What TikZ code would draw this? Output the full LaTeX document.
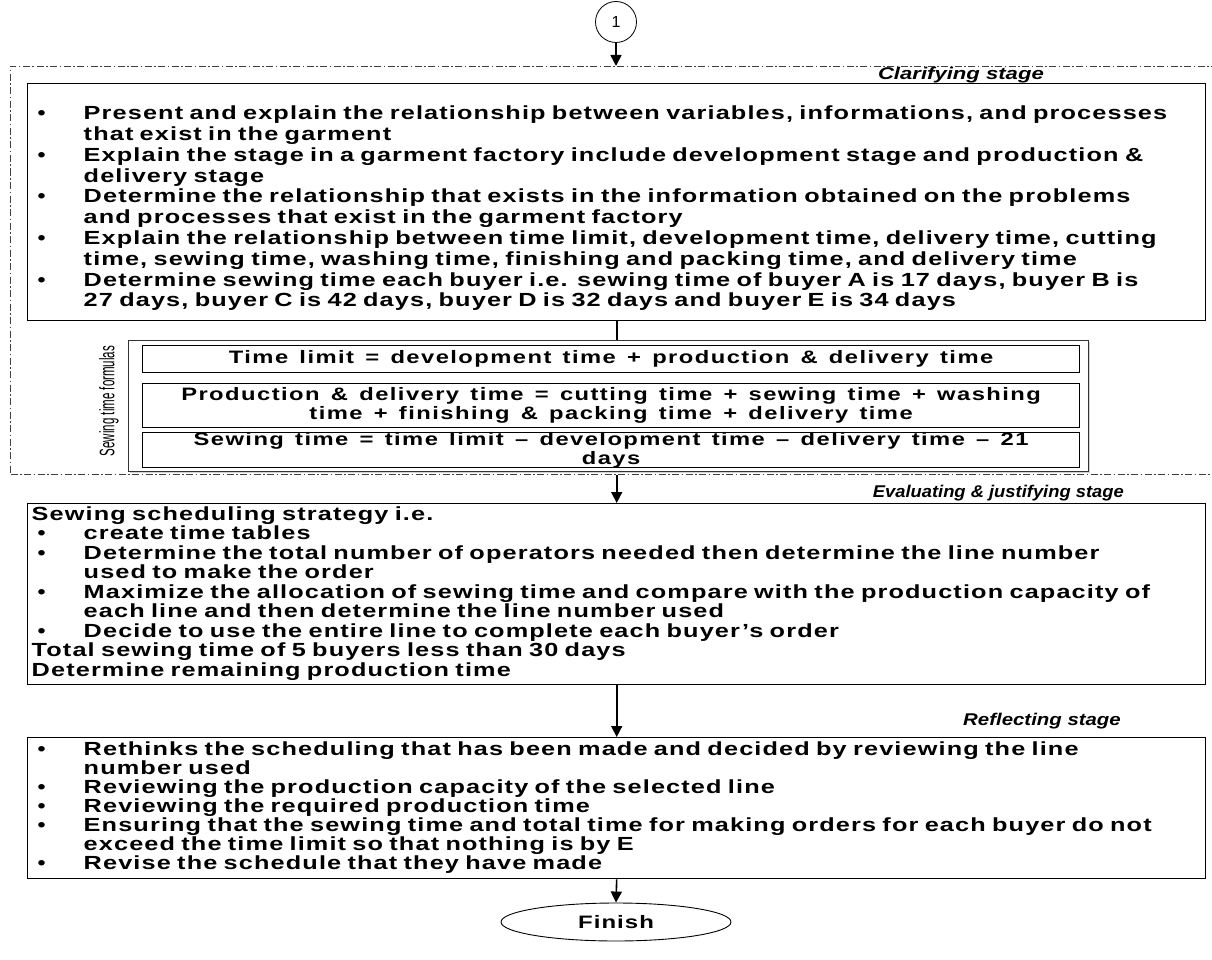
\documentclass[tikz,border=0pt]{standalone}
\usepackage{fontspec}
\setmainfont{Liberation Sans}
\newfontfamily\boxfont[FakeStretch=1.33,LetterSpace=6,WordSpace=1.4]{Liberation Sans}
\newfontfamily\formfont[FakeStretch=1.32,LetterSpace=8,WordSpace=1.4]{Liberation Sans}
\newfontfamily\bulfont[FakeStretch=1.2]{Liberation Sans}
\newfontfamily\stagefontA[FakeStretch=1.3]{Liberation Sans}
\newfontfamily\stagefontB[FakeStretch=1.08]{Liberation Sans}
\newfontfamily\stagefontC[FakeStretch=1.2]{Liberation Sans}
\newfontfamily\narrowfont[FakeStretch=0.55]{Liberation Sans}
\usetikzlibrary{arrows.meta,shapes.geometric,shadows}
\newcommand{\bl}{{\bulfont\bfseries •}}
\newcommand{\lowered}[2]{\raisebox{-#1}[\height][\depth]{#2}}
\begin{document}
\begin{tikzpicture}[x=1pt,y=-1pt,
  arr/.style={line width=1.6pt,-{Triangle[length=11pt,width=11pt]}},
  conn/.style={line width=1.6pt},
  mainbox/.style={draw,line width=1.4pt,anchor=north west,inner xsep=10pt,inner ysep=0pt,
     text width=1158pt,align=left},
  bfont/.style={font={\boxfont\bfseries\fontsize{19}{#1}\selectfont}},
  fbox/.style={draw,line width=1.2pt,anchor=north west,minimum width=937pt,inner sep=0pt,
     align=center,font={\formfont\bfseries\fontsize{18}{18.5}\selectfont}},
  cont/.style={draw=black!80,line width=0.9pt,fill=white,anchor=north west,
     drop shadow={shadow xshift=1.5pt,shadow yshift=-1.5pt,opacity=0.35}},
  frame/.style={draw=black!75,line width=1pt,dash pattern=on 7pt off 2.5pt on 1.5pt off 2.5pt},
  stagelbl/.style={inner sep=1pt,anchor=east},
  sidelbl/.style={font={\narrowfont\fontsize{21}{24}\selectfont},inner sep=0pt}
]
\useasboundingbox (0,0) rectangle (1212,960);
\fill[white] (0,0) rectangle (1212,960);

% start connector
\node[circle,draw,line width=0.8pt,minimum size=41pt,inner sep=0pt,
      font=\fontsize{16}{18}\selectfont] (start) at (616,22) {1};

% clarifying frame
\node[frame,anchor=north west,minimum width=1230pt,minimum height=408pt,inner sep=0pt] (clar) at (10,66) {};
\draw[arr] (start) -- (start |- clar.north);
\node[stagelbl,font={\stagefontA\bfseries\itshape\fontsize{17}{20}\selectfont}] (clarlbl) at (1045,75) {Clarifying stage};

% box 1
\node[mainbox,bfont=20.8,minimum height=237pt] (b1) at (27,83) {\lowered{7pt}{%
\begin{tabular}{@{}p{46pt}@{}l@{}}
\bl & Present and explain the relationship between variables, informations, and processes\\
 & that exist in the garment\\
\bl & Explain the stage in a garment factory include development stage and production \&\\
 & delivery stage\\
\bl & Determine the relationship that exists in the information obtained on the problems\\
 & and processes that exist in the garment factory\\
\bl & Explain the relationship between time limit, development time, delivery time, cutting\\
 & time, sewing time, washing time, finishing and packing time, and delivery time\\
\bl & Determine sewing time each buyer i.e. sewing time of buyer A is 17 days, buyer B is\\
 & 27 days, buyer C is 42 days, buyer D is 32 days and buyer E is 34 days
\end{tabular}}};

% formulas container
\node[cont,minimum width=960pt,minimum height=131pt] (fcont) at (128,340) {};
\draw[conn] (b1.south) -- (b1.south |- fcont.north);
\node[sidelbl,rotate=90] (flbl) at (109,401) {Sewing time formulas};
\node[fbox,minimum height=27pt] (fa) at (142,345) {Time limit = development time + production \& delivery time};
\node[fbox,minimum height=44pt] (fb) at (142,383) {Production \& delivery time = cutting time + sewing time + washing\\time + finishing \& packing time + delivery time};
\node[fbox,minimum height=35pt] (fc) at (142,432) {Sewing time = time limit – development time – delivery time – 21\\days};

% box 2
\node[mainbox,bfont=18.9,minimum height=181pt] (b2) at (27,503) {%
\begin{tabular}{@{}p{46pt}@{}l@{}}
\multicolumn{2}{@{}l@{}}{\hspace{-6pt}Sewing scheduling strategy i.e.}\\
\bl & create time tables\\
\bl & Determine the total number of operators needed then determine the line number\\
 & used to make the order\\
\bl & Maximize the allocation of sewing time and compare with the production capacity of\\
 & each line and then determine the line number used\\
\bl & Decide to use the entire line to complete each buyer’s order\\
\multicolumn{2}{@{}l@{}}{\hspace{-6pt}Total sewing time of 5 buyers less than 30 days}\\
\multicolumn{2}{@{}l@{}}{\hspace{-6pt}Determine remaining production time}
\end{tabular}};
\draw[arr] (b1.south |- clar.south) -- (b2.north);
\node[stagelbl,font={\stagefontB\bfseries\itshape\fontsize{17}{20}\selectfont}] (evallbl) at (1125,493) {Evaluating \& justifying stage};

% box 3
\node[mainbox,bfont=17.7,minimum height=141pt] (b3) at (27,737) {%
\begin{tabular}{@{}p{46pt}@{}l@{}}
\bl & Rethinks the scheduling that has been made and decided by reviewing the line\\
 & number used\\
\bl & Reviewing the production capacity of the selected line\\
\bl & Reviewing the required production time\\
\bl & Ensuring that the sewing time and total time for making orders for each buyer do not\\
 & exceed the time limit so that nothing is by E\\
\bl & Revise the schedule that they have made
\end{tabular}};
\draw[arr] (b2.south) -- (b3.north);
\node[stagelbl,font={\stagefontC\bfseries\itshape\fontsize{17}{20}\selectfont}] (refllbl) at (1122,721) {Reflecting stage};

% finish
\node[ellipse,draw,line width=0.9pt,minimum width=230pt,minimum height=38pt,inner sep=0pt,
      font={\boxfont\bfseries\fontsize{18}{20}\selectfont}] (fin) at (616,922) {Finish};
\draw[arr] (b3.south) -- (fin.north);
\end{tikzpicture}
\end{document}
